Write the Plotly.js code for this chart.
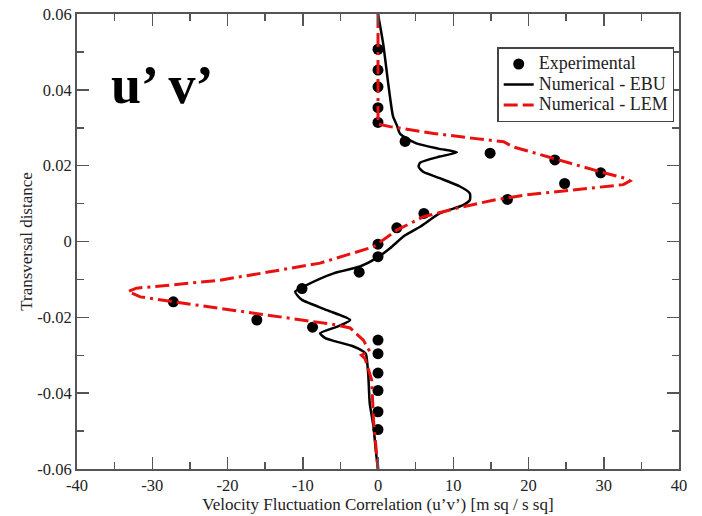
<!DOCTYPE html>
<html>
<head>
<meta charset="utf-8">
<script src="https://cdn.plot.ly/plotly-3.0.1.min.js"></script>
<style>
  html, body { margin: 0; padding: 0; background: #fff; }
  #chart { width: 702px; height: 516px; }
</style>
</head>
<body>
<div id="chart"></div>
<script>
// Experimental u'v' profile across the jet
const expX = [0, 0, 0, 0, 0, 3.6, 14.9, 23.5, 29.6, 24.8, 17.2, 6.1, 2.5, 0, 0, -2.5, -10.1, -27.2, -16.1, -8.7, 0, 0, 0, 0, 0, 0];
const expY = [0.0507, 0.0452, 0.0408, 0.0353, 0.0314, 0.0264, 0.0233, 0.0215, 0.0181, 0.0153, 0.0111, 0.0074, 0.0036, -0.0007, -0.0040, -0.0081, -0.0124, -0.0159, -0.0207, -0.0226, -0.0260, -0.0296, -0.0347, -0.0393, -0.0449, -0.0496];

// EBU model result
const ebuX = [0, 0.7, 1.4, 2.0, 2.5, 2.9, 3.8, 5.1, 8.0, 10.5, 8.2, 5.6, 5.4, 6.0, 8.2, 10.9, 12.2, 12.2, 11.3, 8.2, 5.6, 3.5, 1.6, -0.2, -2.4, -5.9, -9.5, -11.0, -10.6, -10.1, -6.8, -3.7, -5.5, -7.7, -7.0, -5.9, -3.5, -1.95, -1.6, -1.3, -1.1, -0.6, -0.3, 0];
const ebuY = [0.060, 0.052, 0.041, 0.033, 0.0307, 0.0285, 0.0272, 0.0259, 0.0245, 0.0235, 0.0224, 0.0208, 0.0197, 0.0184, 0.0167, 0.0145, 0.0127, 0.0109, 0.0096, 0.0074, 0.0039, 0.0015, -0.0018, -0.0044, -0.0066, -0.0084, -0.0115, -0.0132, -0.0145, -0.0154, -0.0181, -0.0207, -0.0225, -0.0242, -0.0255, -0.0262, -0.0275, -0.0290, -0.0297, -0.0350, -0.0426, -0.0488, -0.0550, -0.060];

// LEM model result
const lemX = [0, 0, 0, 1.6, 7.4, 12.7, 16.7, 17.9, 23.3, 29.5, 33.0, 33.5, 32.6, 26.0, 19.8, 15.3, 10.5, 6.0, 2.5, -0.6, -3.3, -7.7, -14.4, -21.0, -27.6, -32.1, -33.2, -31.6, -27.2, -21.0, -14.4, -9.9, -5.5, -3.7, -1.95, -1.1, -2.2, -1.7, -0.84, -0.6, -0.2, 0];
const lemY = [0.060, 0.045, 0.0310, 0.0303, 0.0285, 0.0272, 0.0263, 0.0250, 0.0219, 0.0184, 0.0166, 0.0160, 0.0150, 0.0136, 0.0123, 0.0109, 0.0088, 0.0065, 0.0030, -0.0014, -0.0031, -0.0057, -0.0080, -0.0102, -0.0115, -0.0123, -0.0132, -0.0146, -0.0159, -0.0176, -0.0194, -0.0207, -0.0220, -0.0228, -0.0260, -0.0290, -0.0300, -0.0310, -0.0365, -0.0471, -0.0559, -0.060];

// Axis ticks and labels
const xTickVals = [-40, -30, -20, -10, 0, 10, 20, 30, 40];
const xTickText = ['-40', '-30', '-20', '-10', '0', '10', '20', '30', '40'];
const xMinorVals = [-35, -25, -15, -5, 5, 15, 25, 35];
const yTickVals = [-0.06, -0.04, -0.02, 0, 0.02, 0.04, 0.06];
const yTickText = ['-0.06', '-0.04', '-0.02', '0', '0.02', '0.04', '0.06'];
const yMinorVals = [-0.05, -0.03, -0.01, 0.01, 0.03, 0.05];

const FONT = 'Liberation Serif';
const AXC = '#555';

// legend rows are packed tightly, so the label text is sized inline
const big = s => '<span style="font-size:18px">' + s + '</span>';

const traces = [
  {
    x: expX, y: expY, mode: 'markers', type: 'scatter', name: big('Experimental'),
    marker: { color: '#000', size: 11, symbol: 'circle' }
  },
  {
    x: ebuX, y: ebuY, mode: 'lines', type: 'scatter', name: big('Numerical - EBU'),
    line: { color: '#000', width: 2.5, shape: 'spline', smoothing: 0.6 }
  },
  {
    x: lemX, y: lemY, mode: 'lines', type: 'scatter', name: big('Numerical - LEM'),
    line: { color: '#e8110f', width: 3, dash: '14px,5px,14px,5px,3px,5px' }
  }
];

function axis(extra) {
  return Object.assign({
    showgrid: false, zeroline: false, showline: true, linecolor: AXC, linewidth: 2,
    mirror: 'ticks', ticks: 'inside', ticklen: 12, tickwidth: 1.5, tickcolor: AXC,
    tickmode: 'array', tickfont: { family: FONT, size: 16.5, color: '#222' }
  }, extra);
}

const layout = {
  width: 702, height: 516,
  margin: { l: 77, r: 23, t: 14, b: 47 },
  paper_bgcolor: '#fff', plot_bgcolor: '#fff',
  font: { family: FONT, color: '#222' },
  showlegend: true,
  xaxis: axis({
    range: [-40, 40], tickvals: xTickVals, ticktext: xTickText,
    minor: { tickvals: xMinorVals, ticks: 'inside', ticklen: 7, tickwidth: 1.5, tickcolor: AXC },
    title: { text: 'Velocity Fluctuation Correlation (u’v’) [m sq / s sq]', font: { family: FONT, size: 17, color: '#222' }, standoff: 2 }
  }),
  yaxis: axis({
    range: [-0.06, 0.06], tickvals: yTickVals, ticktext: yTickText,
    minor: { tickvals: yMinorVals, ticks: 'inside', ticklen: 7, tickwidth: 1.5, tickcolor: AXC },
    title: { text: 'Transversal distance', font: { family: FONT, size: 17, color: '#222' }, standoff: 0 }
  }),
  legend: {
    x: 0.698, y: 0.927, xanchor: 'left', yanchor: 'top',
    bgcolor: '#fff', bordercolor: '#444', borderwidth: 1.5,
    font: { family: FONT, size: 13.5, color: '#222' },
    tracegroupgap: 0
  },
  annotations: [{
    xref: 'paper', yref: 'paper', x: 0.053, y: 0.843, xanchor: 'left', yanchor: 'middle',
    text: '<b>u’ v’</b>', showarrow: false,
    font: { family: FONT, size: 54, color: '#000' }
  }]
};

Plotly.newPlot('chart', traces, layout, { displayModeBar: false, staticPlot: true });
</script>
</body>
</html>
